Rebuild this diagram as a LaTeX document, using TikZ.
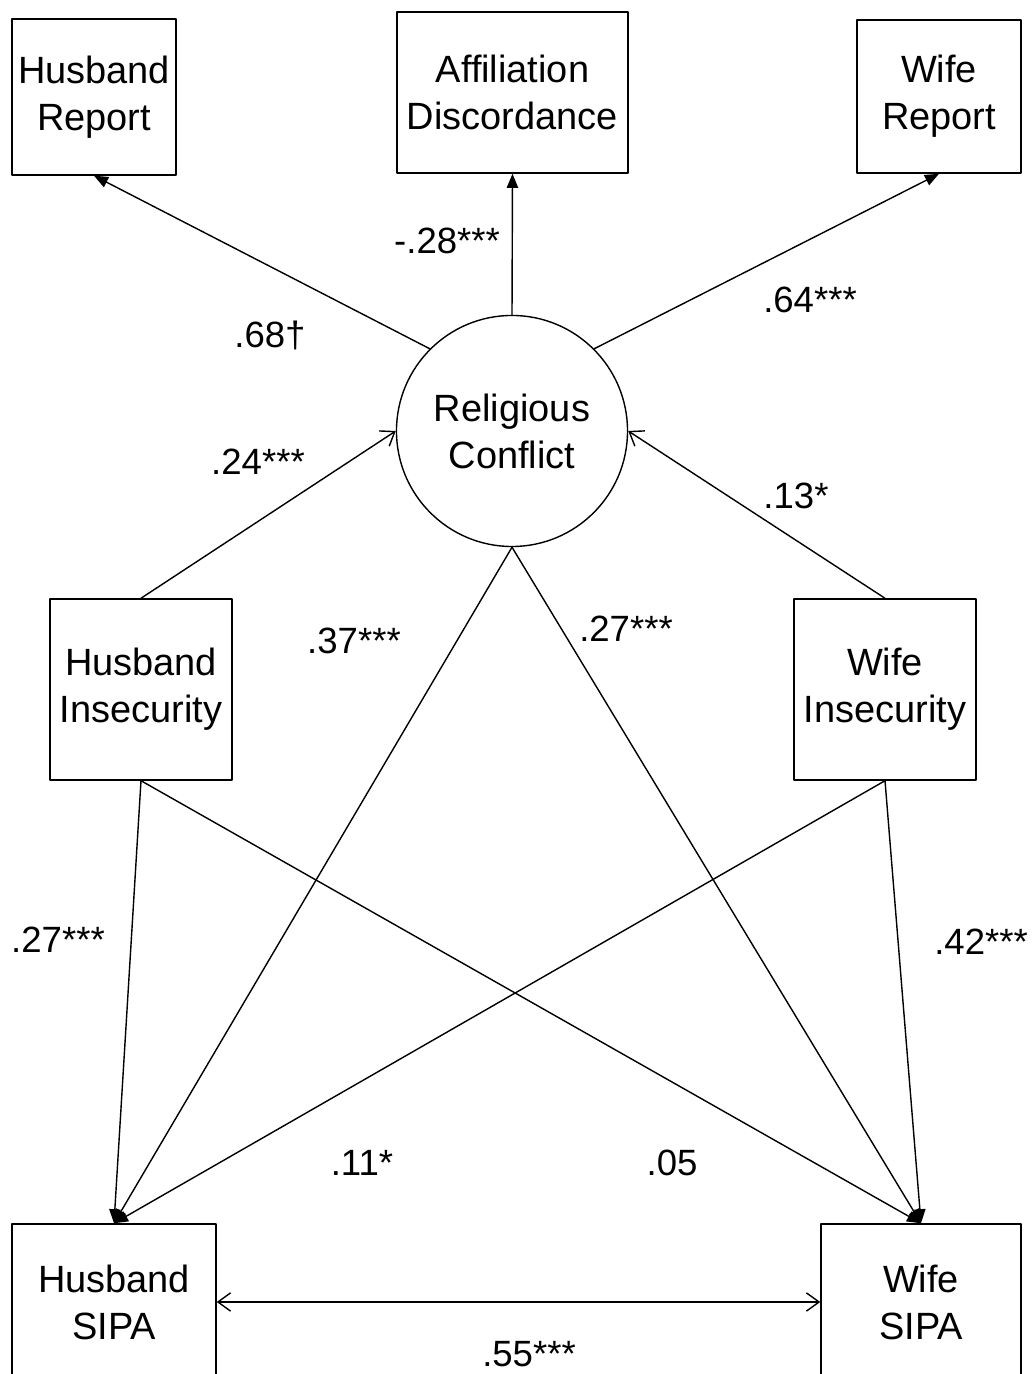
\documentclass[tikz,border=0pt]{standalone}
\usepackage{fontspec}
\setmainfont{Liberation Sans}
\usetikzlibrary{arrows.meta}

\begin{document}
\begin{tikzpicture}[x=0.025cm,y=0.025cm,line cap=round,line join=round,
  box/.style={draw,line width=1pt,align=center,inner sep=0pt,font=\fontsize{27}{33.5}\selectfont},
  lat/.style={draw,circle,line width=1pt,align=center,inner sep=0pt,minimum size=5.775cm,font=\fontsize{27}{33.5}\selectfont},
  coef/.style={inner sep=1pt,font=\fontsize{26}{30}\selectfont},
  path/.style={line width=1pt,-{Triangle[length=10pt,width=8pt]}},
  openpath/.style={line width=1pt,-{Straight Barb[length=9pt,width=13pt]}},
  covpath/.style={line width=1pt,{Straight Barb[length=9pt,width=13pt]}-{Straight Barb[length=9pt,width=13pt]}}]
\useasboundingbox (0,0) rectangle (1033,1374);
% indicators
\node[box,minimum width=4.1cm,minimum height=3.9cm] (hr) at (94,1277) {Husband\\Report};
\node[box,minimum width=5.78cm,minimum height=4.025cm] (ad) at (512.5,1281.5) {Affiliation\\Discordance};
\node[box,minimum width=4.1cm,minimum height=3.83cm] (wr) at (939,1277.5) {Wife\\Report};
% latent
\node[lat] (rc) at (512,943) {Religious\\Conflict};
% predictors
\node[box,minimum width=4.55cm,minimum height=4.525cm] (hi) at (141,684.5) {Husband\\Insecurity};
\node[box,minimum width=4.55cm,minimum height=4.525cm] (wi) at (885,684.5) {Wife\\Insecurity};
% outcomes
\node[box,minimum width=5.1cm,minimum height=3.9cm] (hs) at (114,72) {Husband\\SIPA};
\node[box,minimum width=5.0cm,minimum height=3.9cm] (ws) at (921,72) {Wife\\SIPA};
% paths
\draw[path] (rc.135) -- (hr.south);
\draw[path] (rc.north) -- (ad.south);
\draw[path] (rc.45) -- (wr.south);
\draw[openpath] (hi.north) -- (rc.west);
\draw[openpath] (wi.north) -- (rc.east);
\draw[path] (rc.south) -- (hs.north);
\draw[path] (rc.south) -- (ws.north);
\draw[path] (hi.south) -- (hs.north);
\draw[path] (hi.south) -- (ws.north);
\draw[path] (wi.south) -- (hs.north);
\draw[path] (wi.south) -- (ws.north);
\draw[covpath] (hs.east) -- (ws.west);
% coefficients
\node[coef] (l1) at (270,1039) {.68\textdagger};
\node[coef] (l2) at (447,1133) {-.28***};
\node[coef] (l3) at (810,1074) {.64***};
\node[coef] (l4) at (258,912) {.24***};
\node[coef] (l5) at (796,878) {.13*};
\node[coef] (l6) at (354,733) {.37***};
\node[coef] (l7) at (626,745) {.27***};
\node[coef] (l8) at (58,434) {.27***};
\node[coef] (l9) at (981,432) {.42***};
\node[coef] (l10) at (362,211) {.11*};
\node[coef] (l11) at (672,211) {.05};
\node[coef] (l12) at (529,20) {.55***};
\end{tikzpicture}
\end{document}
